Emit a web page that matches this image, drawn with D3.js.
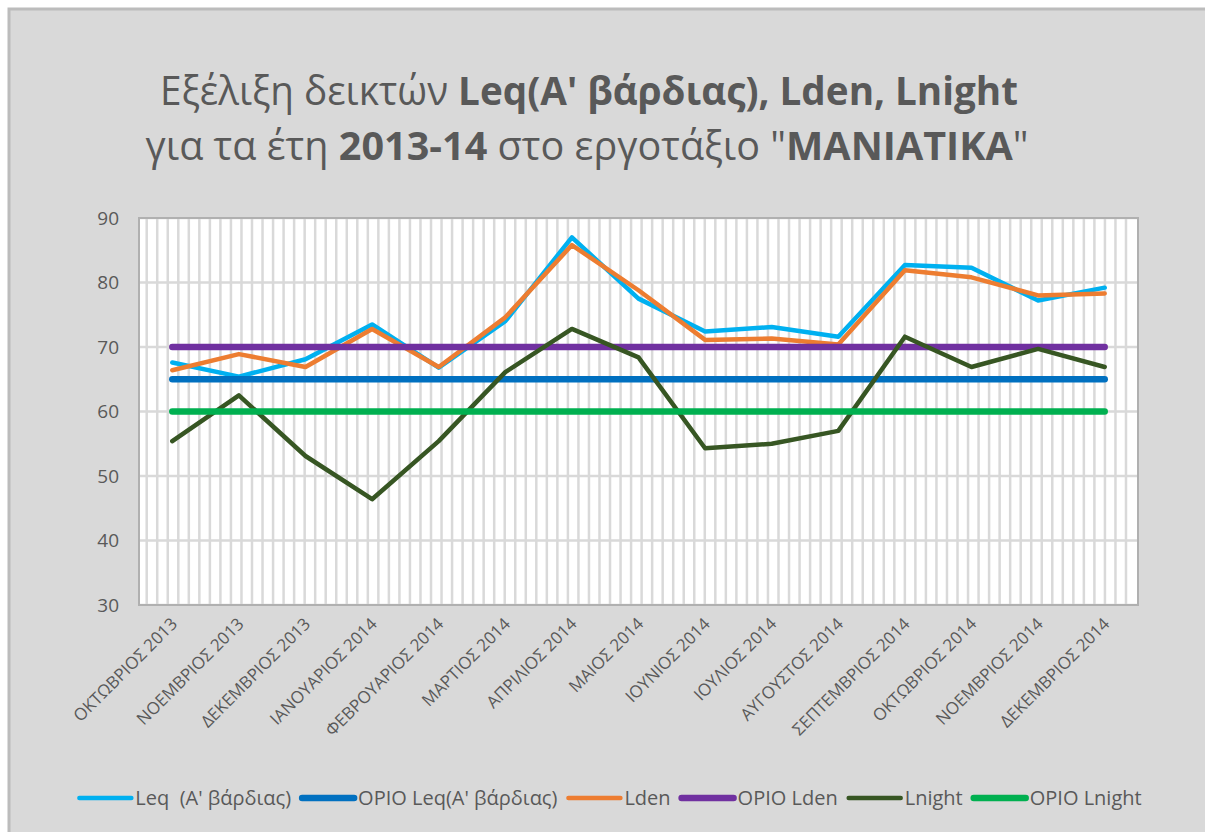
<!DOCTYPE html>
<html lang="el">
<head>
  <meta charset="UTF-8">
  <title>MANIATIKA</title>
  <script src="https://d3js.org/d3.v7.min.js"></script>
  <style>
    body { margin: 0; background: #fff; }
    text { font-family: "Open Sans", sans-serif; fill: #595959; }
  </style>
</head>
<body>
  <svg id="chart" width="1205" height="832"></svg>

  <script>
    const months = [
      "ΟΚΤΩΒΡΙΟΣ 2013", "ΝΟΕΜΒΡΙΟΣ 2013", "ΔΕΚΕΜΒΡΙΟΣ 2013", "ΙΑΝΟΥΑΡΙΟΣ 2014",
      "ΦΕΒΡΟΥΑΡΙΟΣ 2014", "ΜΑΡΤΙΟΣ 2014", "ΑΠΡΙΛΙΟΣ 2014", "ΜΑΙΟΣ 2014",
      "ΙΟΥΝΙΟΣ 2014", "ΙΟΥΛΙΟΣ 2014", "ΑΥΓΟΥΣΤΟΣ 2014", "ΣΕΠΤΕΜΒΡΙΟΣ 2014",
      "ΟΚΤΩΒΡΙΟΣ 2014", "ΝΟΕΜΒΡΙΟΣ 2014", "ΔΕΚΕΜΒΡΙΟΣ 2014"
    ];
    const leq    = [67.6, 65.4, 68.1, 73.5, 66.8, 74.0, 87.0, 77.5, 72.4, 73.1, 71.6, 82.7, 82.3, 77.2, 79.2];
    const lden   = [66.4, 68.9, 66.9, 72.8, 66.9, 74.6, 85.8, 78.8, 71.1, 71.3, 70.4, 81.9, 80.8, 78.0, 78.3];
    const lnight = [55.4, 62.5, 53.1, 46.4, 55.4, 66.1, 72.8, 68.4, 54.3, 55.0, 57.0, 71.6, 66.9, 69.7, 66.9];
    const orioLeq    = months.map(() => 65);
    const orioLden   = months.map(() => 70);
    const orioLnight = months.map(() => 60);
    const yTicks = [30, 40, 50, 60, 70, 80, 90];

    const series = [
      { name: "Leq  (A' βάρδιας)",    values: leq,        color: "#00b0f0", width: 4.5 },
      { name: "ΟΡΙΟ Leq(A' βάρδιας)", values: orioLeq,    color: "#0070c0", width: 6.5 },
      { name: "Lden",                 values: lden,       color: "#ed7d31", width: 4.5 },
      { name: "ΟΡΙΟ Lden",            values: orioLden,   color: "#7030a0", width: 6.5 },
      { name: "Lnight",               values: lnight,     color: "#375623", width: 4.5 },
      { name: "ΟΡΙΟ Lnight",          values: orioLnight, color: "#00b050", width: 6.5 }
    ];

    const svg = d3.select("#chart");
    const plot = { left: 139, right: 1138, top: 218, bottom: 605 };

    // chart background + frame
    svg.append("rect").attr("x", 9).attr("y", 9).attr("width", 1205).attr("height", 832)
      .attr("fill", "#d9d9d9").attr("stroke", "#bcbcbc").attr("stroke-width", 3);

    const x = d3.scalePoint().domain(months).range([plot.left, plot.right]).padding(0.5);
    const y = d3.scaleLinear().domain([30, 90]).range([plot.bottom, plot.top]);

    svg.append("rect")
      .attr("x", plot.left).attr("y", plot.top)
      .attr("width", plot.right - plot.left).attr("height", plot.bottom - plot.top)
      .attr("fill", "#fff");

    // minor vertical gridlines
    const gx = d3.scaleLinear().domain([0, 95]).range([plot.left + 7.7, plot.left + 7.7 + 95 * 10.53]);
    svg.append("g").selectAll("line")
      .data(d3.range(0, 95).filter(i => gx(i) < plot.right - 2))
      .join("line")
      .attr("x1", d => gx(d)).attr("x2", d => gx(d))
      .attr("y1", plot.top).attr("y2", plot.bottom)
      .attr("stroke", "#d9d9d9").attr("stroke-width", 2.5);

    // horizontal gridlines
    svg.append("g").selectAll("line")
      .data(yTicks)
      .join("line")
      .attr("x1", plot.left).attr("x2", plot.right)
      .attr("y1", d => y(d)).attr("y2", d => y(d))
      .attr("stroke", "#d9d9d9").attr("stroke-width", 2.5);

    // plot border
    svg.append("rect")
      .attr("x", plot.left).attr("y", plot.top)
      .attr("width", plot.right - plot.left).attr("height", plot.bottom - plot.top)
      .attr("fill", "none").attr("stroke", "#b0b0b0").attr("stroke-width", 2);

    // y labels
    svg.append("g").selectAll("text")
      .data(yTicks)
      .join("text")
      .attr("x", 119).attr("y", d => y(d)).attr("dy", "0.35em")
      .attr("text-anchor", "end").attr("font-size", 19)
      .text(d => d);

    // x labels
    svg.append("g").selectAll("text")
      .data(months)
      .join("text")
      .attr("transform", d => `translate(${x(d) + 6},${plot.bottom + 20}) rotate(-45)`)
      .attr("text-anchor", "end").attr("font-size", 17)
      .text(d => d);

    // series lines
    const line = d3.line().x((d, i) => x(months[i])).y(d => y(d));
    svg.append("g").selectAll("path")
      .data(series)
      .join("path")
      .attr("d", d => line(d.values))
      .attr("fill", "none")
      .attr("stroke", d => d.color)
      .attr("stroke-width", d => d.width)
      .attr("stroke-linecap", "round")
      .attr("stroke-linejoin", "round");

    // title
    const title = svg.append("g").attr("font-size", 40);
    const t1 = title.append("text").attr("x", 589).attr("y", 105).attr("text-anchor", "middle")
      .attr("textLength", 858).attr("lengthAdjust", "spacingAndGlyphs");
    t1.append("tspan").text("Εξέλιξη δεικτών ");
    t1.append("tspan").attr("font-weight", "bold").text("Leq(A' βάρδιας), Lden, Lnight");
    const t2 = title.append("text").attr("x", 587).attr("y", 160).attr("text-anchor", "middle")
      .attr("textLength", 883).attr("lengthAdjust", "spacingAndGlyphs");
    t2.append("tspan").text("για τα έτη ");
    t2.append("tspan").attr("font-weight", "bold").text("2013-14");
    t2.append("tspan").text(" στο εργοτάξιο \"");
    t2.append("tspan").attr("font-weight", "bold").text("ΜΑΝΙΑΤΙΚΑ");
    t2.append("tspan").text("\"");

    // legend
    const legend = svg.append("g");
    let cx = 0;
    series.forEach(s => {
      const g = legend.append("g").attr("transform", `translate(${cx},0)`);
      g.append("line").attr("x1", 0).attr("x2", 52).attr("y1", 0).attr("y2", 0)
        .attr("stroke", s.color).attr("stroke-width", s.width).attr("stroke-linecap", "round");
      const t = g.append("text").attr("x", 56).attr("dy", "0.35em").attr("font-size", 20)
        .style("white-space", "pre").text(s.name);
      cx += 56 + t.node().getComputedTextLength() + 11;
    });
    const legendW = cx - 11;
    legend.attr("transform", `translate(${610.5 - legendW / 2},798)`);
  </script>
</body>
</html>
